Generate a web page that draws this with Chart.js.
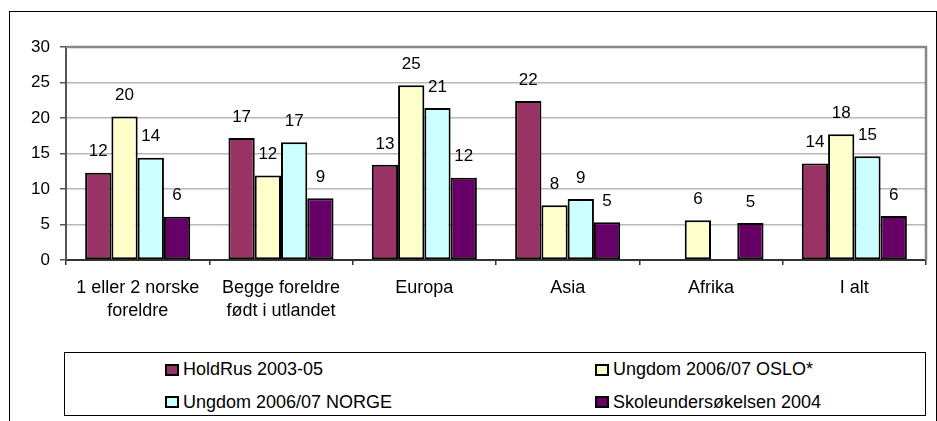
<!DOCTYPE html>
<html>
<head>
<meta charset="utf-8">
<script src="https://cdn.jsdelivr.net/npm/chart.js@4.4.0/dist/chart.umd.min.js"></script>
<style>
  html, body { margin: 0; padding: 0; background: #fff; overflow: hidden; }
  #wrap { position: relative; width: 937px; height: 421px; }
  #frame { position: absolute; left: 9px; top: 11px; width: 928px; height: 460px; border: 1px solid #000; box-sizing: border-box; pointer-events: none; }
  canvas { position: absolute; left: 0; top: 0; }
  #legend { position: absolute; left: 64px; top: 352px; width: 862px; height: 64px; border: 1px solid #000; box-sizing: border-box; background: #fff;
            font-family: 'Liberation Sans', Arial, sans-serif; font-size: 18px; color: #000; }
  .item { position: absolute; height: 22px; display: flex; align-items: center; white-space: nowrap; }
  .sw { width: 14px; height: 12px; border: 2px solid #000; box-sizing: border-box; margin-right: 4px; }
</style>
</head>
<body>
<div id="wrap">
  <canvas id="c" width="937" height="421"></canvas>
  <div id="frame"></div>
  <div id="legend"></div>
</div>
<script>
const categories = [['1 eller 2 norske', 'foreldre'], ['Begge foreldre', 'født i utlandet'], 'Europa', 'Asia', 'Afrika', 'I alt'];
const seriesNames = ['HoldRus 2003-05', 'Ungdom 2006/07 OSLO*', 'Ungdom 2006/07 NORGE', 'Skoleundersøkelsen 2004'];
const holdRus = [12.3, 17.2, 13.4, 22.4, null, 13.6];
const ungdomOslo = [20.2, 11.9, 24.6, 7.7, 5.6, 17.7];
const ungdomNorge = [14.4, 16.6, 21.4, 8.6, null, 14.6];
const skole = [6.1, 8.7, 11.6, 5.3, 5.2, 6.2];
const yMin = 0, yMax = 30, yStep = 5;
const colors = ['#993366', '#FFFFCC', '#CCFFFF', '#660066'];

const FONT = "'Liberation Sans', Arial, sans-serif";
const seriesValues = [holdRus, ungdomOslo, ungdomNorge, skole];

const datasets = seriesValues.map((vals, i) => ({
  label: seriesNames[i],
  data: vals,
  backgroundColor: colors[i],
  borderColor: '#000',
  borderWidth: 2,
  borderSkipped: false,
  categoryPercentage: 0.733,
  barPercentage: 1.0
}));

const valueLabels = {
  id: 'valueLabels',
  afterDatasetsDraw(chart) {
    const ctx = chart.ctx;
    ctx.save();
    ctx.font = '17px ' + FONT;
    ctx.fillStyle = '#000';
    ctx.textAlign = 'center';
    ctx.textBaseline = 'middle';
    chart.data.datasets.forEach((ds, di) => {
      const meta = chart.getDatasetMeta(di);
      meta.data.forEach((el, i) => {
        const v = ds.data[i];
        if (v === null || v === undefined) return;
        ctx.fillText(String(Math.round(v)), el.x, el.y - 21);
      });
    });
    ctx.restore();
  }
};

const plotBorder = {
  id: 'plotBorder',
  afterDraw(chart) {
    const a = chart.chartArea;
    const ctx = chart.ctx;
    ctx.save();
    ctx.strokeStyle = '#888';
    ctx.lineWidth = 2.5;
    ctx.beginPath();
    ctx.moveTo(a.left, a.top);
    ctx.lineTo(a.right, a.top);
    ctx.lineTo(a.right, a.bottom);
    ctx.stroke();
    ctx.restore();
  }
};

const chart = new Chart(document.getElementById('c'), {
  type: 'bar',
  data: { labels: categories, datasets },
  options: {
    responsive: false,
    devicePixelRatio: 1,
    animation: false,
    layout: { padding: { top: 47, right: 11, left: 0, bottom: 0 } },
    plugins: { legend: { display: false }, tooltip: { enabled: false } },
    scales: {
      x: {
        afterFit(s) { s.height = 161; },
        grid: { display: true, drawOnChartArea: false, drawTicks: true, tickLength: 5, tickColor: '#333', offset: true, lineWidth: 1.5 },
        border: { display: true, color: '#333', width: 2 },
        ticks: { font: { family: FONT, size: 18, lineHeight: 1.3 }, color: '#000', padding: 11, maxRotation: 0, autoSkip: false }
      },
      y: {
        min: yMin, max: yMax,
        afterFit(s) { s.width = 66; },
        grid: { color: '#b8b8b8', lineWidth: 1.5, tickLength: 6, tickColor: '#555' },
        border: { display: true, color: '#555', width: 2 },
        ticks: { stepSize: yStep, font: { family: FONT, size: 17 }, color: '#000', padding: 10 }
      }
    }
  },
  plugins: [valueLabels, plotBorder]
});

// HTML legend built from chart datasets
const legend = document.getElementById('legend');
const pos = [[100, 5.7], [530, 5.7], [100, 38], [530, 38]];
chart.data.datasets.forEach((ds, i) => {
  const it = document.createElement('div');
  it.className = 'item';
  it.style.left = pos[i][0] + 'px';
  it.style.top = pos[i][1] + 'px';
  const sw = document.createElement('div');
  sw.className = 'sw';
  sw.style.background = ds.backgroundColor;
  const tx = document.createElement('span');
  tx.textContent = ds.label;
  it.appendChild(sw); it.appendChild(tx);
  legend.appendChild(it);
});
</script>
</body>
</html>
